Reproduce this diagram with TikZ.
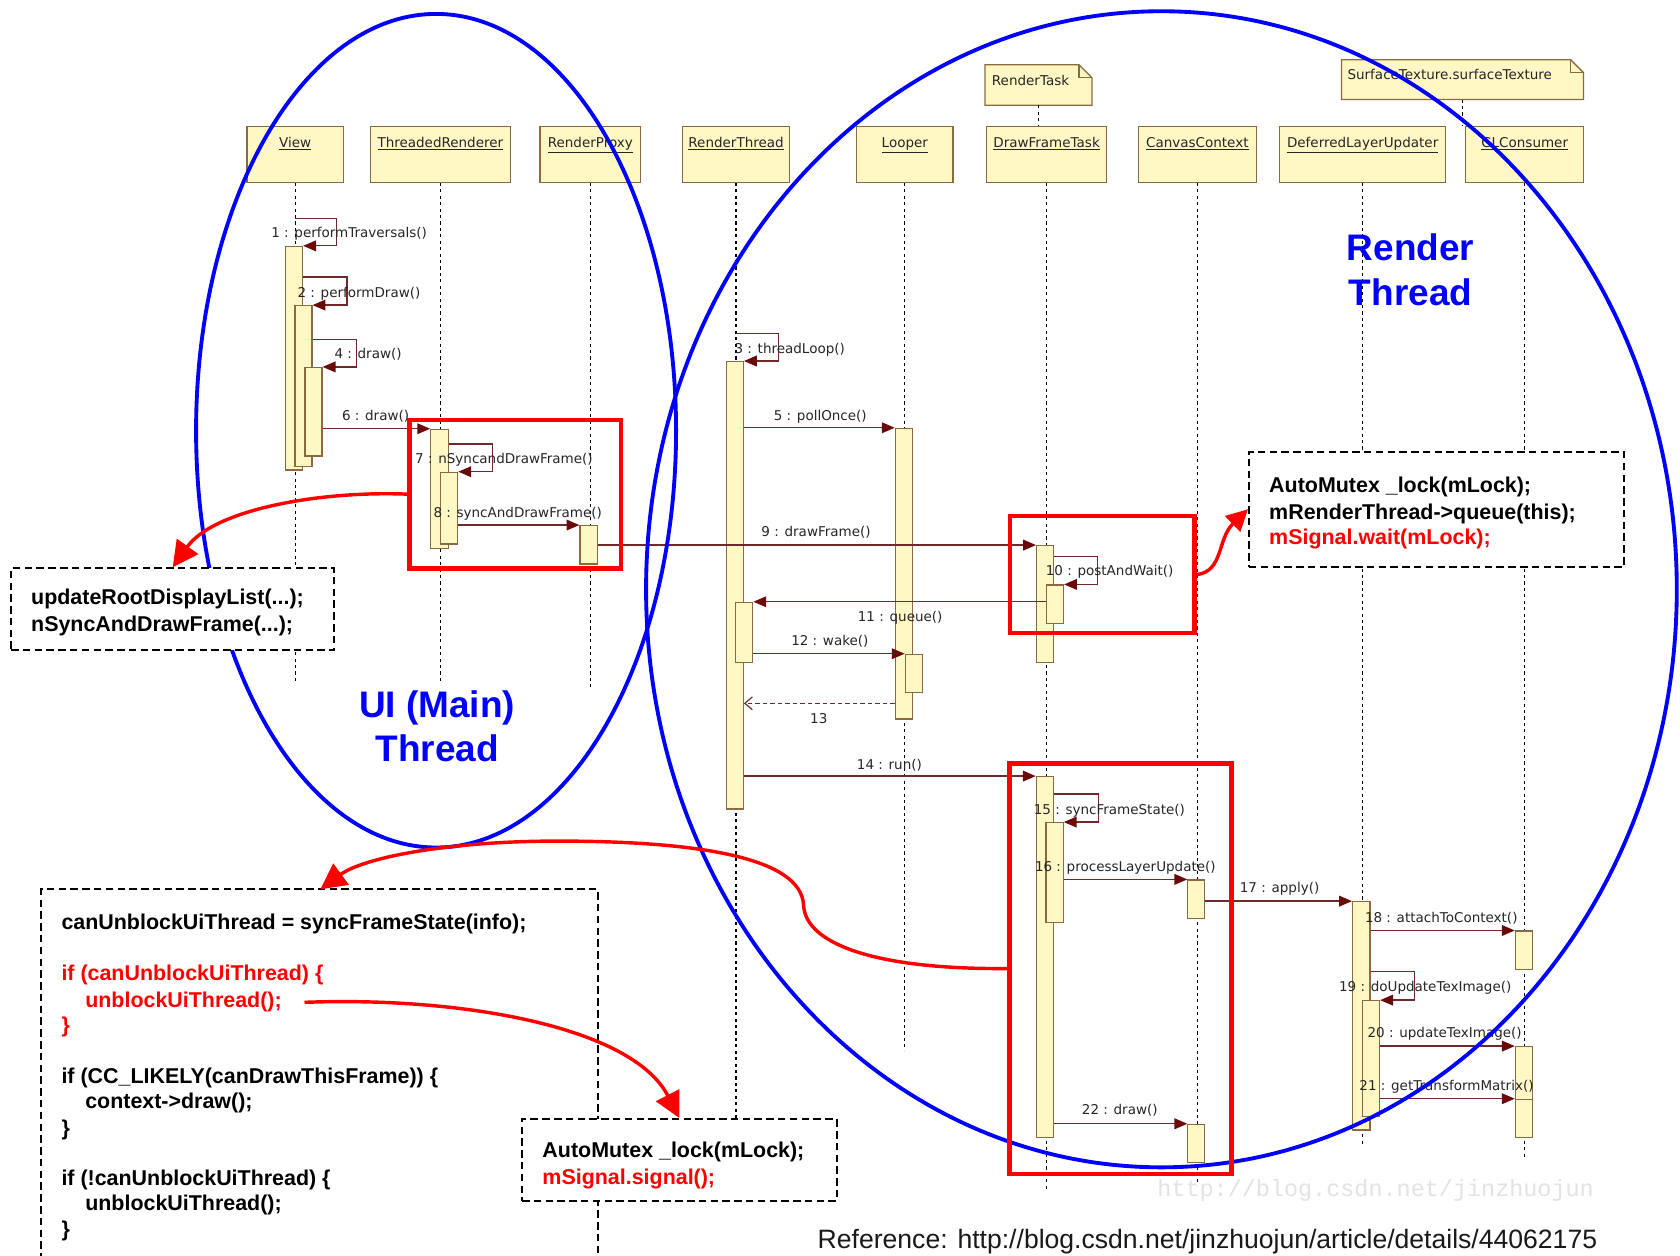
\documentclass[tikz,border=0pt]{standalone}
\usepackage{fontspec}
\setmainfont{Liberation Sans}
\newfontfamily\seqfont{DejaVu Sans}
\newfontfamily\wmfont{Liberation Mono}
\usetikzlibrary{arrows.meta,fit,calc}
\definecolor{hdfill}{HTML}{FFF8C4}
\definecolor{hdline}{HTML}{8C6A3F}
\definecolor{msgc}{HTML}{6E2A2A}
\definecolor{tipc}{HTML}{6A0A0A}
\definecolor{lblc}{HTML}{262626}
\begin{document}
\begin{tikzpicture}[x=1pt,y=-1pt,
  head/.style={draw=hdline,fill=hdfill,line width=1.2pt,inner sep=0pt,minimum height=52pt},
  notebox/.style={inner sep=0pt},
  noteline/.style={draw=hdline,fill=hdfill,line width=1.2pt},
  actbar/.style={draw=hdline,fill=hdfill,line width=1.1pt,inner sep=0pt},
  lifeline/.style={draw=black,line width=1.1pt,dash pattern=on 3pt off 3pt},
  msg/.style={draw=msgc,line width=1.2pt,-{Triangle[length=12pt,width=10pt,color=tipc]}},
  retmsg/.style={draw=msgc,line width=1.1pt,dash pattern=on 4pt off 3pt,-{Straight Barb[length=7pt,width=12pt]}},
  lbl/.style={font=\seqfont\fontsize{12.6}{15}\selectfont,text=lblc,anchor=base west,inner sep=0pt},
  hdtxt/.style={font=\seqfont\fontsize{12.6}{15}\selectfont,text=lblc,anchor=base,inner sep=0pt},
  redbox/.style={draw=red,line width=4.2pt,inner sep=0pt},
  codebox/.style={draw=black,fill=white,line width=1.8pt,dash pattern=on 7pt off 4pt,inner sep=0pt},
  code/.style={font=\bfseries\fontsize{20}{24}\selectfont,anchor=base west,inner sep=0pt},
  redcode/.style={code,text=red},
  redarrow/.style={draw=red,line width=3.2pt,-{Triangle[length=24pt,width=24pt]}},
  redarrowsmall/.style={draw=red,line width=3.2pt,-{Triangle[length=20pt,width=20pt]}},
  bluetxt/.style={font=\bfseries\fontsize{34.5}{40}\selectfont,text=blue,anchor=base,inner sep=0pt},
  ell/.style={draw=blue,line width=3.6pt}
]
\useasboundingbox (0,0) rectangle (1568,1172);
\clip (0,0) rectangle (1568,1172);
\fill[white] (0,0) rectangle (1568,1172);

% ---------- heads ----------
\node[head,minimum width=90pt]  (view) at (275.5,144) {};
\node[head,minimum width=131pt] (tr)   at (411,144) {};
\node[head,minimum width=94pt]  (rp)   at (551,144) {};
\node[head,minimum width=100pt] (rt)   at (687,144) {};
\node[head,minimum width=90pt]  (lp)   at (844.5,144) {};
\node[head,minimum width=112pt] (dft)  at (976.8,144) {};
\node[head,minimum width=110pt] (cc)   at (1117.5,144) {};
\node[head,minimum width=155pt] (dlu)  at (1271.8,144) {};
\node[head,minimum width=110pt] (gl)   at (1423,144) {};

\node[hdtxt] (viewT) at (275.5,137.8) {\underline{View}};
\node[hdtxt] (trT)   at (411,137.8) {\underline{ThreadedRenderer}};
\node[hdtxt] (rpT)   at (551,137.8) {\underline{RenderProxy}};
\node[hdtxt] (rtT)   at (687,137.8) {\underline{RenderThread}};
\node[hdtxt] (lpT)   at (844.5,137.8) {\underline{Looper}};
\node[hdtxt] (dftT)  at (976.8,137.8) {\underline{DrawFrameTask}};
\node[hdtxt] (ccT)   at (1117.5,137.8) {\underline{CanvasContext}};
\node[hdtxt] (dluT)  at (1271.8,137.8) {\underline{DeferredLayerUpdater}};
\node[hdtxt] (glT)   at (1423,137.8) {\underline{GLConsumer}};

% ---------- notes ----------
\node[notebox,fit={(919.6,60.7) (1018.9,98)}] (rtask) {};
\path[noteline] (rtask.north west) -- ($(rtask.north east)+(-12,0)$) -- ($(rtask.north east)+(0,12)$) -- (rtask.south east) -- (rtask.south west) -- cycle;
\draw[hdline,line width=1.1pt] ($(rtask.north east)+(-12,0)$) -- ++(0,12) -- ++(12,0);
\node[lbl] (rtaskT) at (925.6,79.8) {RenderTask};

\node[notebox,fit={(1252.2,56) (1477.7,92.7)}] (stex) {};
\path[noteline] (stex.north west) -- ($(stex.north east)+(-12,0)$) -- ($(stex.north east)+(0,12)$) -- (stex.south east) -- (stex.south west) -- cycle;
\draw[hdline,line width=1.1pt] ($(stex.north east)+(-12,0)$) -- ++(0,12) -- ++(12,0);
\node[lbl] (stexT) at (1257.5,74.5) {SurfaceTexture.surfaceTexture};

\draw[lifeline] (rtask.south) -- (rtask.south |- dft.north);
\draw[lifeline] (stex.south) -- (stex.south |- gl.north);

% ---------- lifelines ----------
\draw[lifeline] (view.south) -- ++(0,466);
\draw[lifeline] (tr.south) -- ++(0,466);
\draw[lifeline] (rp.south) -- ++(0,472);
\draw[lifeline] (rt.south) -- ++(0,874);
\draw[lifeline] (lp.south) -- ++(0,810);
\draw[lifeline] (dft.south) -- ++(0,940);
\draw[lifeline] (cc.south) -- ++(0,936);
\draw[lifeline] (dlu.south) -- ++(0,899);
\draw[lifeline] (gl.south) -- ++(0,911);

% ---------- activation bars ----------
\node[actbar,fit={(266.4,230) (282.4,438.7)}] (v1) {};
\node[actbar,fit={(275.3,285.3) (291.2,435.6)}] (v2) {};
\node[actbar,fit={(284.7,343) (300.6,425.6)}] (v3) {};
\node[actbar,fit={(402,400.7) (418.4,511.8)}] (tr1) {};
\node[actbar,fit={(411.3,440.8) (427.2,507.7)}] (tr2) {};
\node[actbar,fit={(541.3,490.6) (557.8,526.4)}] (rp1) {};
\node[actbar,fit={(677.8,337.5) (693.8,755)}] (rt1) {};
\node[actbar,fit={(686.4,562.2) (702.6,618.2)}] (rt2) {};
\node[actbar,fit={(835.6,399.8) (851.5,671)}] (lp1) {};
\node[actbar,fit={(844.9,610.7) (860.9,646.2)}] (lp2) {};
\node[actbar,fit={(967.5,509.3) (983,618.2)}] (df1) {};
\node[actbar,fit={(976.6,546) (992.6,581.8)}] (df2) {};
\node[actbar,fit={(967.2,724.9) (983.1,1061.5)}] (df3) {};
\node[actbar,fit={(976.3,767.8) (992.3,861.2)}] (df4) {};
\node[actbar,fit={(1108.7,821.3) (1124.3,857.1)}] (cc1) {};
\node[actbar,fit={(1108.7,1049.4) (1124.3,1085.1)}] (cc2) {};
\node[actbar,fit={(1262.4,841.6) (1278.6,1054.7)}] (dl1) {};
\node[actbar,fit={(1272,934) (1287.6,1042.2)}] (dl2) {};
\node[actbar,fit={(1414.3,869) (1430.2,904.7)}] (gl1) {};
\node[actbar,fit={(1414.3,976.9) (1430.2,1026)}] (gl2) {};
\node[actbar,fit={(1414.3,1026) (1430.2,1061.5)}] (gl3) {};

% ---------- message y levels ----------
\coordinate (m1) at (0,204);
\coordinate (m2) at (0,258.5);
\coordinate (m3) at (0,311);
\coordinate (m4) at (0,317);
\coordinate (m7) at (0,414.4);
\coordinate (m10) at (0,519.6);
\coordinate (m13) at (0,656.4);
\coordinate (m15) at (0,741);
\coordinate (m19) at (0,907);

% ---------- messages ----------
\draw[msg] (view.south |- m1) -- ++(38.5,0) |- (v1.north east);
\draw[msg] (v1.east |- m2) -- ++(41,0) |- (v2.north east);
\draw[msg] (rt.south |- m3) -- ++(39.6,0) |- (rt1.north east);
\draw[msg] (v2.east |- m4) -- ++(41,0) |- (v3.north east);
\draw[msg] (rt1.east |- lp1.north) -- (lp1.north west);
\draw[msg] (v3.east |- tr1.north) -- (tr1.north west);
\draw[msg] (tr1.east |- m7) -- ++(40.6,0) |- (tr2.north east);
\draw[msg] (tr2.east |- rp1.north) -- (rp1.north west);
\draw[msg] (rp1.east |- df1.north) -- (df1.north west);
\draw[msg] (df1.east |- m10) -- ++(41,0) |- (df2.north east);
\draw[msg] (df2.west |- rt2.north) -- (rt2.north east);
\draw[msg] (rt2.east |- lp2.north) -- (lp2.north west);
\draw[retmsg] (lp1.west |- m13) -- (rt1.east |- m13);
\draw[msg] (rt1.east |- df3.north) -- (df3.north west);
\draw[msg] (df3.east |- m15) -- ++(41.3,0) |- (df4.north east);
\draw[msg] (df4.east |- cc1.north) -- (cc1.north west);
\draw[msg] (cc1.east |- dl1.north) -- (dl1.north west);
\draw[msg] (dl1.east |- gl1.north) -- (gl1.north west);
\draw[msg] (dl1.east |- m19) -- ++(40.8,0) |- (dl2.north east);
\draw[msg] (dl2.east |- gl2.north) -- (gl2.north west);
\draw[msg] (dl2.east |- gl3.north) -- (gl3.north west);
\draw[msg] (df3.east |- cc2.north) -- (cc2.north west);

% ---------- message labels ----------
\node[lbl] (l1) at (253,221.8) {1 : performTraversals()};
\node[lbl] (l2) at (277.5,277.2) {2 : performDraw()};
\node[lbl] (l3) at (685.4,330) {3 : threadLoop()};
\node[lbl] (l4) at (312,334.7) {4 : draw()};
\node[lbl] (l5) at (722,392) {5 : pollOnce()};
\node[lbl] (l6) at (319,392.3) {6 : draw()};
\node[lbl] (l7) at (387.3,432.7) {7 : nSyncandDrawFrame()};
\node[lbl] (l8) at (404.4,483) {8 : syncAndDrawFrame()};
\node[lbl] (l9) at (710.5,500.9) {9 : drawFrame()};
\node[lbl] (l10) at (975.9,537.5) {10 : postAndWait()};
\node[lbl] (l11) at (800.5,580.2) {11 : queue()};
\node[lbl] (l12) at (738.3,602.3) {12 : wake()};
\node[lbl] (l13) at (756,675) {13};
\node[lbl] (l14) at (799.6,718) {14 : run()};
\node[lbl] (l15) at (964.7,760) {15 : syncFrameState()};
\node[lbl] (l16) at (965.8,813.8) {16 : processLayerUpdate()};
\node[lbl] (l17) at (1157,833) {17 : apply()};
\node[lbl] (l18) at (1273.8,861) {18 : attachToContext()};
\node[lbl] (l19) at (1249.6,925.5) {19 : doUpdateTexImage()};
\node[lbl] (l20) at (1276.2,968.5) {20 : updateTexImage()};
\node[lbl] (l21) at (1268.6,1018.2) {21 : getTransformMatrix()};
\node[lbl] (l22) at (1009.6,1040.6) {22 : draw()};

% ---------- blue thread ellipses ----------
\draw[ell] (407,402) ellipse [x radius=224pt, y radius=389pt];
\draw[ell] (1084,550) ellipse [x radius=481pt, y radius=539.5pt];

% ---------- red highlight boxes ----------
\node[redbox,fit={(382,392) (579.6,530.4)}] (rb1) {};
\node[redbox,fit={(942.5,481.6) (1115,591)}] (rb2) {};
\node[redbox,fit={(942.3,712.4) (1149.5,1095.5)}] (rb3) {};

% ---------- code boxes ----------
\node[codebox,fit={(10.3,530.4) (312,606.7)}] (boxA) {};
\node[code] (a1) at (28.9,564.5) {updateRootDisplayList(...);};
\node[code] (a2) at (28.9,589.4) {nSyncAndDrawFrame(...);};

\node[codebox,fit={(1165.7,421.6) (1515.7,528.9)}] (boxB) {};
\node[code] (b1) at (1184.4,459.7) {AutoMutex \_lock(mLock);};
\node[code] (b2) at (1184.4,484.6) {mRenderThread->queue(this);};
\node[redcode] (b3) at (1184.4,507.9) {mSignal.wait(mLock);};

\node[codebox,fit={(38.3,830) (558,1200)}] (boxC) {};
\node[code] (c1) at (57.2,867.5) {canUnblockUiThread = syncFrameState(info);};
\node[redcode] (c2) at (57.2,915) {if (canUnblockUiThread) \{};
\node[redcode] (c3) at (79.4,940) {unblockUiThread();};
\node[redcode] (c4) at (57.2,963.5) {\}};
\node[code] (c5) at (57.2,1011) {if (CC\_LIKELY(canDrawThisFrame)) \{};
\node[code] (c6) at (79.4,1035) {context->draw();};
\node[code] (c7) at (57.2,1059.5) {\}};
\node[code] (c8) at (57.2,1106.2) {if (!canUnblockUiThread) \{};
\node[code] (c9) at (79.4,1130) {unblockUiThread();};
\node[code] (c10) at (57.2,1154.4) {\}};

\node[codebox,fit={(487.2,1044.4) (780.9,1120.9)}] (boxD) {};
\node[code] (d1) at (506.1,1080.3) {AutoMutex \_lock(mLock);};
\node[redcode] (d2) at (506.1,1105.2) {mSignal.signal();};

% ---------- red arrows ----------
\coordinate (ra2e) at (299,830);
\coordinate (ra3s) at (284.2,935.5);
\draw[redarrow] (rb1.west) .. controls (300,458) and (200,475) .. (boxA.north);
\draw[redarrow] (rb3.west) .. controls (820,905) and (752,882) .. (750,845)
   .. controls (748,800) and (650,785) .. (520,785)
   .. controls (420,785) and (340,800) .. (ra2e);
\draw[redarrow] (ra3s) .. controls (430,930) and (590,958) .. (boxD.north);
\draw[redarrowsmall] (rb2.east) .. controls (1142,533) and (1136,503) .. (boxB.west);

% ---------- blue captions ----------
\node[bluetxt] (uiA) at (408,670) {UI (Main)};
\node[bluetxt] (uiB) at (408,711) {Thread};
\node[bluetxt] (rtA) at (1316.5,243) {Render};
\node[bluetxt] (rtB) at (1316.5,285) {Thread};

% ---------- watermark and reference ----------
\node[anchor=base west,inner sep=0pt,font=\wmfont\fontsize{21.9}{24}\selectfont,text=black!11] (wm) at (1080,1117) {http://blog.csdn.net/jinzhuojun};
\node[anchor=base west,inner sep=0pt,font=\fontsize{24.8}{28}\selectfont,text=black!90] (ref) at (763,1165.5) {Reference: http://blog.csdn.net/jinzhuojun/article/details/44062175};
\end{tikzpicture}
\end{document}
